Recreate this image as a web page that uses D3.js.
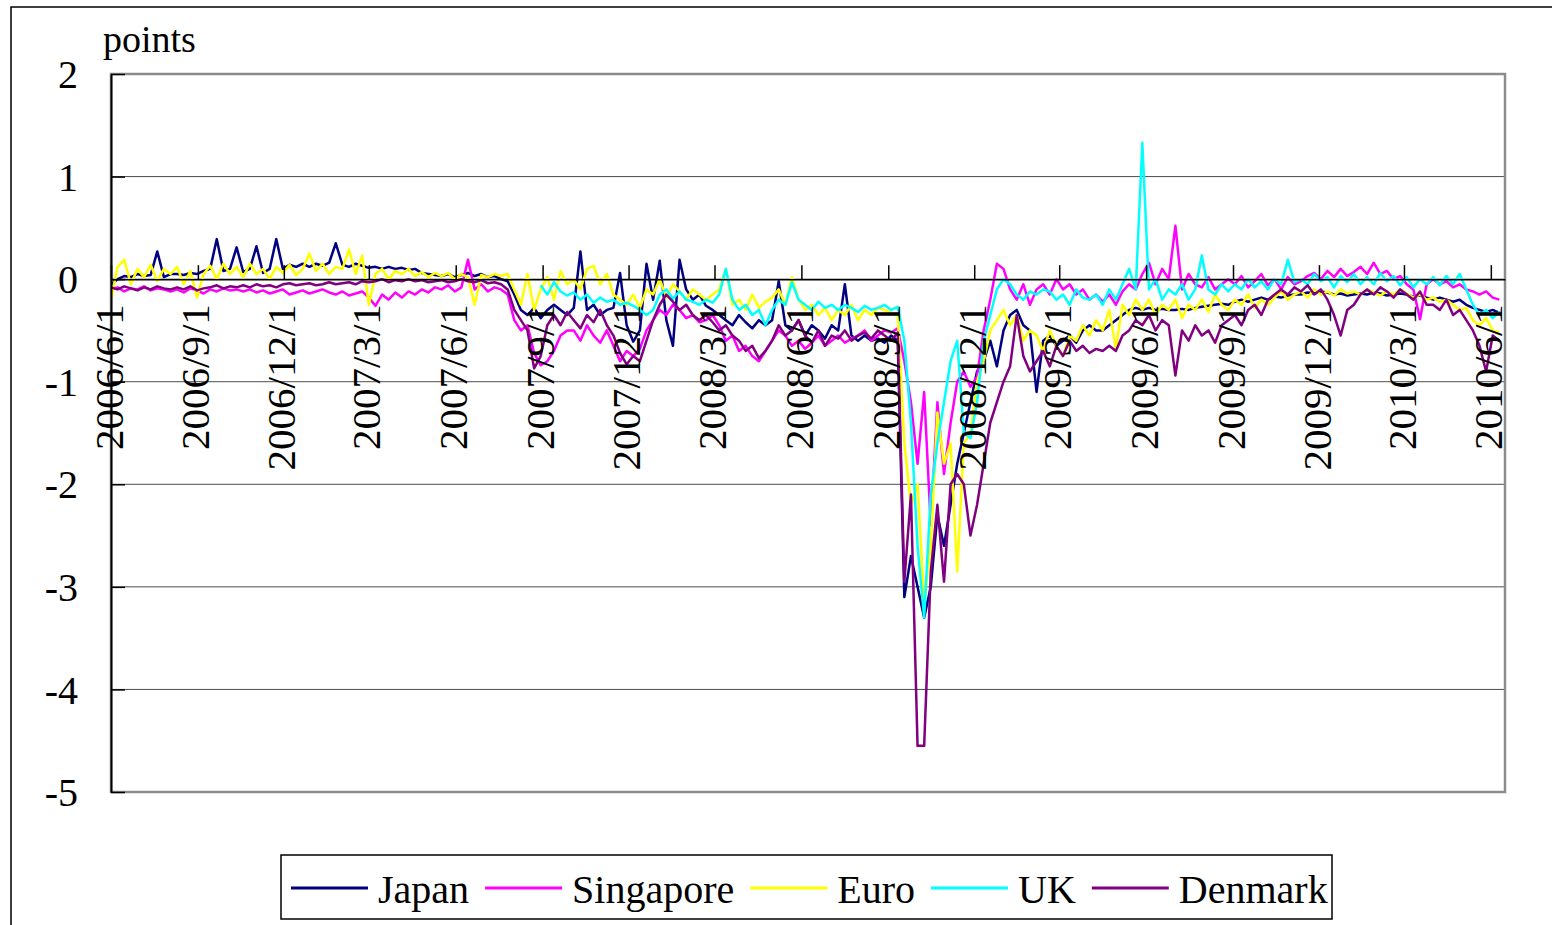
<!DOCTYPE html>
<html>
<head>
<meta charset="utf-8">
<script src="https://cdnjs.cloudflare.com/ajax/libs/d3/7.8.5/d3.min.js"></script>
<style>
  body { margin: 0; background: #fff; }
  svg { display: block; }
  text { font-family: "Liberation Serif", "Times New Roman", serif; fill: #000; }
</style>
</head>
<body>
<script>
// weekly readings, first one on 2006/6/1
const startDate = '2006/6/1';
const stepDays = 7;
const endDate = '2010/6/16';
const tickLabels = ['2006/6/1', '2006/9/1', '2006/12/1', '2007/3/1', '2007/6/1', '2007/9/1', '2007/12/1',
  '2008/3/1', '2008/6/1', '2008/9/1', '2008/12/1', '2009/3/1', '2009/6/1', '2009/9/1', '2009/12/1',
  '2010/3/1', '2010/6/1'];
const yTicks = [2, 1, 0, -1, -2, -3, -4, -5];
const seriesNames = ['Japan', 'Singapore', 'Euro', 'UK', 'Denmark'];
const seriesColors = ['#000080', '#ff00ff', '#ffff00', '#00ffff', '#800080'];

const japan = [
  -0.05, 0.00, 0.03, 0.02, 0.05, 0.03, 0.04, 0.27, 0.02, 0.05,
  0.05, 0.04, 0.06, 0.05, 0.08, 0.10, 0.39, 0.08, 0.10, 0.31,
  0.07, 0.10, 0.32, 0.06, 0.10, 0.39, 0.10, 0.14, 0.12, 0.15,
  0.12, 0.15, 0.13, 0.16, 0.35, 0.14, 0.12, 0.15, 0.13, 0.11,
  0.12, 0.10, 0.12, 0.10, 0.11, 0.09, 0.10, 0.06, 0.05, 0.04,
  0.03, 0.05, 0.02, 0.04, 0.06, 0.03, 0.05, 0.02, 0.03, 0.00,
  -0.02, -0.15, -0.30, -0.35, -0.28, -0.38, -0.30, -0.25, -0.30, -0.35,
  -0.28, 0.27, -0.30, -0.25, -0.35, -0.30, -0.28, 0.06, -0.45, -0.61,
  -0.50, 0.15, -0.20, 0.18, -0.40, -0.65, 0.19, -0.10, -0.20, -0.15,
  -0.26, -0.30, -0.35, -0.40, -0.45, -0.35, -0.42, -0.48, -0.40, -0.45,
  -0.40, -0.02, -0.45, -0.50, -0.40, -0.55, -0.45, -0.50, -0.58, -0.45,
  -0.50, -0.05, -0.55, -0.60, -0.55, -0.60, -0.58, -0.62, -0.55, -0.60,
  -3.10, -2.70, -3.00, -3.30, -3.00, -2.30, -2.60, -2.20, -1.80, -1.50,
  -1.20, -0.90, -0.80, -0.60, -0.85, -0.50, -0.35, -0.30, -0.45, -0.50,
  -1.10, -0.60, -0.55, -0.65, -0.60, -0.55, -0.62, -0.50, -0.45, -0.50,
  -0.50, -0.45, -0.40, -0.35, -0.30, -0.28, -0.30, -0.28, -0.30, -0.29,
  -0.30, -0.30, -0.29, -0.30, -0.28, -0.27, -0.26, -0.25, -0.24, -0.25,
  -0.22, -0.20, -0.22, -0.20, -0.18, -0.20, -0.17, -0.18, -0.16, -0.15,
  -0.15, -0.13, -0.14, -0.12, -0.13, -0.15, -0.14, -0.16, -0.15, -0.14,
  -0.15, -0.13, -0.14, -0.16, -0.15, -0.14, -0.15, -0.17, -0.16, -0.18,
  -0.20, -0.18, -0.20, -0.22, -0.20, -0.25, -0.28, -0.30, -0.32, -0.30, -0.33
];

const singapore = [
  -0.10, -0.08, -0.12, -0.09, -0.10, -0.07, -0.11, -0.09, -0.10, -0.12,
  -0.10, -0.13, -0.09, -0.11, -0.14, -0.10, -0.12, -0.09, -0.11, -0.10,
  -0.12, -0.10, -0.13, -0.11, -0.14, -0.12, -0.10, -0.15, -0.13, -0.11,
  -0.14, -0.12, -0.10, -0.13, -0.15, -0.12, -0.16, -0.14, -0.12, -0.18,
  -0.26, -0.15, -0.20, -0.13, -0.18, -0.12, -0.15, -0.10, -0.13, -0.08,
  -0.10, -0.06, -0.12, -0.08, 0.19, -0.10, -0.05, -0.12, -0.08, -0.10,
  -0.15, -0.40, -0.50, -0.45, -0.72, -0.84, -0.80, -0.70, -0.55, -0.50,
  -0.50, -0.60, -0.45, -0.55, -0.62, -0.50, -0.65, -0.80, -0.70, -0.75,
  -0.68, -0.50, -0.40, -0.30, -0.35, -0.25, -0.30, -0.38, -0.35, -0.42,
  -0.40, -0.35, -0.45, -0.60, -0.55, -0.70, -0.65, -0.75, -0.80, -0.70,
  -0.60, -0.50, -0.55, -0.65, -0.60, -0.68, -0.62, -0.55, -0.65, -0.60,
  -0.55, -0.62, -0.58, -0.55, -0.50, -0.60, -0.55, -0.50, -0.52, -0.48,
  -0.80, -1.20, -1.80, -1.10, -2.40, -1.20, -1.90, -1.40, -1.00, -0.90,
  -1.05, -0.95, -0.50, -0.20, 0.15, 0.10, -0.10, -0.20, -0.05, -0.25,
  -0.10, -0.05, -0.15, 0.00, -0.10, -0.05, -0.15, -0.10, -0.20, -0.15,
  -0.22, -0.15, -0.25, -0.12, -0.05, -0.10, 0.05, 0.16, -0.05, 0.10,
  0.00, 0.52, -0.10, 0.05, -0.05, -0.08, 0.02, -0.10, -0.05, 0.00,
  -0.05, 0.03, -0.08, -0.02, 0.05, -0.06, 0.00, -0.10, 0.02, -0.05,
  -0.02, 0.03, 0.06, 0.00, 0.08, 0.02, 0.10, 0.03, 0.07, 0.12,
  0.05, 0.16, 0.05, 0.08, 0.00, 0.03, -0.05, -0.10, -0.39, -0.05,
  0.00, -0.05, -0.02, -0.08, -0.05, -0.10, -0.12, -0.15, -0.12, -0.18, -0.20
];

const euro = [
  -0.20, 0.12, 0.19, -0.05, 0.10, 0.02, 0.14, -0.02, 0.10, 0.05,
  0.12, -0.05, 0.08, -0.18, 0.05, 0.13, 0.00, 0.15, 0.05, 0.12,
  0.02, 0.15, 0.05, 0.10, 0.00, 0.12, 0.06, 0.14, 0.04, 0.10,
  0.25, 0.08, 0.15, 0.05, 0.12, 0.10, 0.29, 0.05, 0.23, -0.25,
  0.05, 0.10, 0.00, 0.08, 0.05, 0.10, 0.03, 0.07, 0.02, 0.06,
  0.03, 0.06, 0.00, 0.05, 0.02, -0.25, 0.04, 0.02, 0.05, 0.03,
  0.05, -0.10, -0.25, 0.05, -0.30, -0.10, 0.02, -0.20, 0.08, -0.05,
  0.00, -0.10, 0.10, 0.13, -0.05, 0.05, -0.15, -0.20, -0.25, -0.15,
  -0.28, -0.10, -0.15, 0.00, -0.18, -0.05, -0.12, -0.20, -0.10, -0.15,
  -0.20, -0.15, -0.10, 0.10, -0.25, -0.20, -0.30, -0.15, -0.28, -0.22,
  -0.18, -0.10, -0.25, 0.02, -0.20, -0.30, -0.25, -0.35, -0.28, -0.40,
  -0.30, -0.35, -0.25, -0.40, -0.30, -0.35, -0.28, -0.30, -0.33, -0.35,
  -1.60, -2.20, -2.00, -3.15, -2.60, -1.30, -1.80, -1.60, -2.85, -1.60,
  -1.50, -1.00, -0.80, -0.50, -0.40, -0.30, -0.45, -0.35, -0.60, -0.50,
  -0.55, -0.70, -0.50, -0.65, -0.75, -0.55, -0.60, -0.45, -0.55, -0.40,
  -0.50, -0.30, -0.68, -0.25, -0.35, -0.20, -0.30, -0.20, -0.35, -0.25,
  -0.30, -0.20, -0.38, -0.25, -0.30, -0.20, -0.32, -0.15, -0.25, -0.30,
  -0.20, -0.25, -0.15, -0.28, -0.20, -0.25, -0.18, -0.12, -0.20, -0.15,
  -0.12, -0.18, -0.10, -0.15, -0.12, -0.16, -0.10, -0.14, -0.12, -0.15,
  -0.10, -0.13, -0.16, -0.12, -0.15, -0.10, -0.14, -0.18, -0.15, -0.20,
  -0.18, -0.22, -0.20, -0.25, -0.30, -0.28, -0.40, -0.45, -0.38, -0.50, -0.52
];

// UK series only begins in the 66th week (2007/8)
const uk = Array(65).fill(null).concat([
  -0.06, -0.15, -0.03, -0.12, -0.16,
  -0.13, -0.20, -0.15, -0.23, -0.18, -0.22, -0.20, -0.25, -0.23, -0.26,
  -0.30, -0.35, -0.30, -0.15, -0.10, -0.19, -0.12, -0.20, -0.22, -0.25,
  -0.20, -0.23, -0.15, 0.10, -0.20, -0.30, -0.25, -0.35, -0.30, -0.45,
  -0.30, -0.20, -0.25, -0.03, -0.20, -0.25, -0.30, -0.22, -0.28, -0.25,
  -0.30, -0.25, -0.28, -0.32, -0.26, -0.30, -0.28, -0.25, -0.30, -0.27,
  -0.60, -1.40, -2.60, -3.30, -2.10, -1.60, -1.20, -0.80, -0.60, -1.50,
  -1.55, -1.20, -0.60, -0.35, -0.10, 0.00, -0.05, -0.15, -0.20, -0.12,
  -0.15, -0.10, -0.12, -0.20, -0.15, -0.25, -0.10, -0.18, -0.20, -0.15,
  -0.25, -0.10, -0.20, -0.05, 0.10, -0.10, 1.33, -0.10, 0.00, -0.20,
  -0.10, -0.15, -0.05, -0.20, -0.10, 0.23, -0.10, -0.15, -0.05, -0.12,
  -0.05, -0.10, 0.00, -0.08, -0.02, -0.10, 0.00, -0.05, 0.19, -0.03,
  0.00, -0.05, 0.05, -0.02, 0.02, -0.08, 0.03, -0.03, 0.05, -0.05,
  0.02, -0.05, 0.06, -0.02, 0.03, -0.06, 0.02, -0.08, 0.00, -0.05,
  0.02, -0.06, 0.03, -0.05, 0.05, -0.10, -0.25, -0.35, -0.30, -0.38, -0.32
]);

const denmark = [
  -0.08, -0.10, -0.07, -0.09, -0.11, -0.08, -0.10, -0.07, -0.09, -0.10,
  -0.08, -0.10, -0.07, -0.11, -0.09, -0.08, -0.06, -0.09, -0.07, -0.08,
  -0.06, -0.08, -0.05, -0.07, -0.06, -0.08, -0.05, -0.04, -0.06, -0.05,
  -0.04, -0.06, -0.05, -0.03, -0.05, -0.04, -0.03, -0.05, -0.02, -0.03,
  -0.02, 0.00, -0.03, -0.01, -0.02, 0.00, -0.02, -0.01, -0.03, -0.02,
  -0.01, -0.03, -0.02, 0.00, -0.02, -0.03, -0.01, -0.04, -0.03, -0.05,
  -0.10, -0.30, -0.40, -0.50, -0.87, -0.75, -0.45, -0.35, -0.45, -0.32,
  -0.40, -0.48, -0.35, -0.42, -0.30, -0.45, -0.55, -0.72, -0.83, -0.75,
  -0.80, -0.60, -0.40, -0.25, -0.15, -0.22, -0.30, -0.25, -0.35, -0.40,
  -0.35, -0.42, -0.50, -0.45, -0.55, -0.60, -0.70, -0.65, -0.77, -0.70,
  -0.60, -0.45, -0.55, -0.50, -0.40, -0.55, -0.62, -0.50, -0.65, -0.55,
  -0.58, -0.50, -0.60, -0.55, -0.52, -0.58, -0.50, -0.55, -0.60, -0.52,
  -2.95, -2.10, -4.55, -4.55, -2.85, -2.20, -2.95, -2.00, -1.90, -2.00,
  -2.50, -2.20, -1.80, -1.40, -1.20, -1.00, -0.85, -0.35, -0.75, -0.90,
  -0.80, -0.70, -0.85, -0.65, -0.75, -0.60, -0.70, -0.65, -0.72, -0.68,
  -0.70, -0.65, -0.70, -0.55, -0.50, -0.40, -0.45, -0.35, -0.50, -0.40,
  -0.45, -0.94, -0.50, -0.60, -0.45, -0.55, -0.50, -0.62, -0.45, -0.40,
  -0.35, -0.45, -0.30, -0.25, -0.35, -0.20, -0.15, -0.10, -0.15, -0.08,
  -0.12, -0.06, -0.15, -0.10, -0.20, -0.35, -0.55, -0.30, -0.25, -0.15,
  -0.10, -0.15, -0.08, -0.12, -0.18, -0.10, -0.15, -0.20, -0.12, -0.25,
  -0.25, -0.30, -0.20, -0.35, -0.30, -0.40, -0.50, -0.65, -0.90, -0.55, -0.60
];

const seriesValues = [japan, singapore, euro, uk, denmark];

const W = 1552, H = 925;
const plot = { left: 111, top: 74, right: 1505, bottom: 792 };
const serif = '"Liberation Serif", "Times New Roman", serif';

const parseDate = (s) => { const p = s.split('/').map(Number); return new Date(p[0], p[1] - 1, p[2]); };
const t0 = parseDate(startDate);
const dates = japan.map((v, i) => d3.timeDay.offset(t0, i * stepDays));

const x = d3.scaleTime().domain([t0, parseDate(endDate)]).range([plot.left, plot.right]);
const y = d3.scaleLinear().domain([-5, 2]).range([plot.bottom, plot.top]);

const svg = d3.select('body').append('svg').attr('width', W).attr('height', H);
svg.append('rect').attr('width', W).attr('height', H).attr('fill', '#fff');

// chart area border (runs off the right and bottom of the picture)
svg.append('rect').attr('x', 11).attr('y', 7).attr('width', 1700).attr('height', 1100)
   .attr('fill', 'none').attr('stroke', '#000').attr('stroke-width', 1.5);

// gridlines
svg.append('g').selectAll('line').data(yTicks).enter().append('line')
   .attr('x1', plot.left).attr('x2', plot.right)
   .attr('y1', d => y(d)).attr('y2', d => y(d))
   .attr('stroke', '#4d4d4d').attr('stroke-width', 1);

// plot frame
svg.append('rect').attr('x', plot.left).attr('y', plot.top)
   .attr('width', plot.right - plot.left).attr('height', plot.bottom - plot.top)
   .attr('fill', 'none').attr('stroke', '#8c8c8c').attr('stroke-width', 2.5);

svg.append('defs').append('clipPath').attr('id', 'clip').append('rect')
   .attr('x', plot.left).attr('y', plot.top - 2)
   .attr('width', plot.right - plot.left).attr('height', plot.bottom - plot.top + 4);

// series
const line = d3.line()
  .defined(d => d.v !== null)
  .x(d => x(d.date))
  .y(d => y(d.v));

const lines = svg.append('g').attr('clip-path', 'url(#clip)');
seriesValues.forEach((vals, k) => {
  lines.append('path')
    .datum(vals.map((v, i) => ({ date: dates[i], v: v })))
    .attr('d', line)
    .attr('fill', 'none')
    .attr('stroke', seriesColors[k])
    .attr('stroke-width', 2.5)
    .attr('stroke-linejoin', 'round');
});

// y axis
const yAxis = d3.axisLeft(y).tickValues(yTicks).tickFormat(d3.format('d'))
  .tickSize(-14).tickSizeOuter(0).tickPadding(33);
const gy = svg.append('g').attr('transform', 'translate(' + plot.left + ',0)').call(yAxis)
  .attr('font-family', null).attr('font-size', null);
gy.select('.domain').attr('stroke', '#000').attr('stroke-width', 2);
gy.selectAll('.tick line').attr('stroke', '#000').attr('stroke-width', 1.5);
gy.selectAll('text').style('font-family', serif).style('font-size', '40px').attr('dy', '0.34em')
  .text(d => String(d).replace('\u2212', '-'));

// x axis on the zero line
const xAxis = d3.axisBottom(x).tickValues(tickLabels.map(parseDate))
  .tickFormat((d, i) => tickLabels[i]).tickSize(-14).tickSizeOuter(0);
const gx = svg.append('g').attr('transform', 'translate(0,' + y(0) + ')').call(xAxis)
  .attr('font-family', null).attr('font-size', null);
gx.select('.domain').attr('stroke', '#000').attr('stroke-width', 1.5);
gx.selectAll('.tick line').attr('stroke', '#000').attr('stroke-width', 1.5);
gx.selectAll('text')
  .style('font-family', serif)
  .style('font-size', '41px')
  .attr('text-anchor', 'end')
  .attr('transform', 'rotate(-90)')
  .attr('x', -25).attr('y', 0).attr('dy', '0.27em');

// unit label
svg.append('text').attr('x', 103).attr('y', 52).style('font-size', '38px').text('points');

// legend
const legend = svg.append('g');
legend.append('rect').attr('x', 281).attr('y', 855).attr('width', 1051).attr('height', 64)
  .attr('fill', '#fff').attr('stroke', '#000').attr('stroke-width', 1.5);
let lx = 291;
seriesNames.forEach((name, k) => {
  legend.append('line').attr('x1', lx).attr('x2', lx + 77).attr('y1', 888).attr('y2', 888)
    .attr('stroke', seriesColors[k]).attr('stroke-width', 3);
  const t = legend.append('text').attr('x', lx + 87).attr('y', 903).style('font-size', '40px').text(name);
  lx += 87 + t.node().getComputedTextLength() + 16;
});
</script>
</body>
</html>
